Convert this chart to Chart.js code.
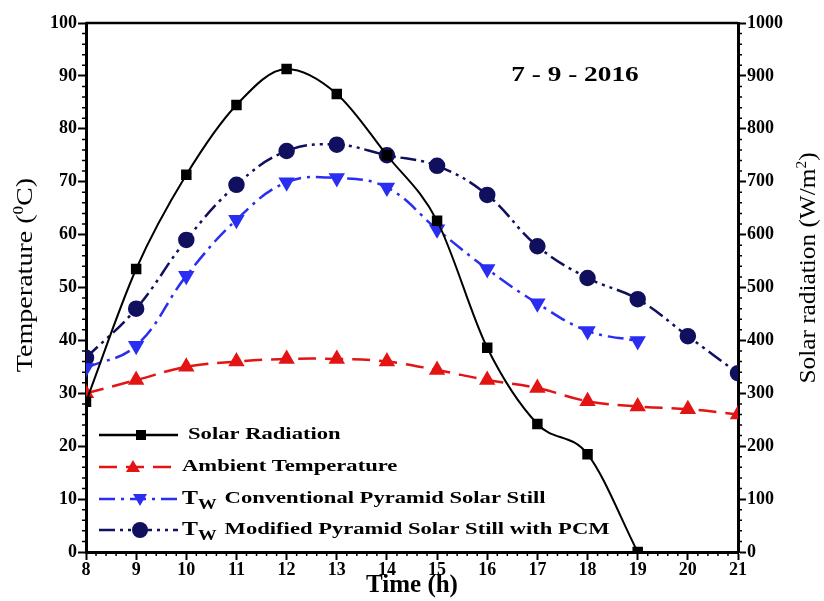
<!DOCTYPE html>
<html lang="en">
<head>
    <meta charset="UTF-8">
    <title>Solar Still Temperatures</title>
    <style>
        body { margin: 0; padding: 0; background: #fff; }
        #wrap { width: 824px; height: 601px; }
    </style>
</head>
<body>
    <div id="wrap"><canvas id="chart" width="824" height="601"></canvas></div>
    <script src="https://cdn.jsdelivr.net/npm/chart.js"></script>
    <script>
        // data
        var hours = [8, 9, 10, 11, 12, 13, 14, 15, 16, 17, 18, 19, 20, 21];
        var solarRadiation = [284, 535, 713, 845, 913, 866, 750, 626, 386, 242, 185, 0];
        var ambientTemp = [30, 32.5, 35, 36, 36.5, 36.5, 36, 34.4, 32.5, 31, 28.5, 27.5, 27, 26];
        var conventionalTw = [34.8, 39, 52.2, 62.8, 69.9, 70.7, 68.9, 61, 53.5, 47, 41.8, 39.9];
        var modifiedTw = [36.7, 46, 59, 69.4, 75.8, 77, 75, 73, 67.5, 57.8, 51.8, 47.8, 40.8, 33.8];
        var legendLabels = ['Solar Radiation', 'Ambient Temperature',
            'Conventional Pyramid Solar Still', 'Modified Pyramid Solar Still with PCM'];
        var dateLabel = '7 - 9 - 2016';

        var serif = '"Liberation Serif", "Times New Roman", serif';

        function pts(vals) {
            return vals.map(function(v, i) { return { x: hours[i], y: v }; });
        }

        // draws text parts [text, size, dy] in a row, stretched along the row
        function drawParts(ctx, parts, cx, cy, angle, stretch, weight) {
            ctx.save();
            ctx.translate(cx, cy);
            ctx.rotate(angle);
            ctx.scale(stretch, 1);
            ctx.textBaseline = 'middle';
            ctx.textAlign = 'left';
            var total = 0;
            parts.forEach(function(p) {
                ctx.font = weight + ' ' + p[1] + 'px ' + serif;
                total += ctx.measureText(p[0]).width;
            });
            var x = -total / 2;
            parts.forEach(function(p) {
                ctx.font = weight + ' ' + p[1] + 'px ' + serif;
                ctx.fillText(p[0], x, p[2]);
                x += ctx.measureText(p[0]).width;
            });
            ctx.restore();
        }

        // minor ticks, top frame line, axis titles and date text
        var decor = {
            id: 'decor',
            afterDraw: function(chart) {
                var ctx = chart.ctx, a = chart.chartArea;
                var sx = chart.scales.x, sy = chart.scales.y, sy2 = chart.scales.y2;
                ctx.save();
                ctx.strokeStyle = '#000';
                ctx.lineWidth = 1.5;
                ctx.beginPath();
                for (var v = 0; v <= 100; v += 2) {
                    if (v % 10 === 0) continue;
                    var py = sy.getPixelForValue(v);
                    ctx.moveTo(a.left - 4, py); ctx.lineTo(a.left, py);
                }
                for (var w = 0; w <= 1000; w += 20) {
                    if (w % 100 === 0) continue;
                    var py2 = sy2.getPixelForValue(w);
                    ctx.moveTo(a.right, py2); ctx.lineTo(a.right + 4, py2);
                }
                for (var h = 8; h < 21; h += 0.2) {
                    if (Math.abs(h - Math.round(h)) < 0.01) continue;
                    var px = sx.getPixelForValue(h);
                    ctx.moveTo(px, a.bottom); ctx.lineTo(px, a.bottom + 4);
                }
                ctx.stroke();

                ctx.lineWidth = 2.5;
                ctx.beginPath();
                ctx.moveTo(a.left, a.top); ctx.lineTo(a.right, a.top);
                ctx.stroke();

                ctx.fillStyle = '#000';
                drawParts(ctx, [['Temperature (', 23, 0], ['0', 14, -7], ['C)', 23, 0]],
                    26, 275, -Math.PI / 2, 1.22, 'normal');
                drawParts(ctx, [['Solar radiation (W/m', 23, 0], ['2', 14, -7], [')', 23, 0]],
                    809, 268, -Math.PI / 2, 1.1, 'normal');
                drawParts(ctx, [[dateLabel, 21, 0]],
                    sx.getPixelForValue(17.75), sy.getPixelForValue(90), 0, 1.3, 'bold');
                ctx.restore();
            }
        };

        function drawMarker(ctx, style, x, y, color) {
            ctx.fillStyle = color;
            ctx.beginPath();
            if (style === 'rect') {
                ctx.rect(x - 5, y - 5, 10, 10);
            } else if (style === 'circle') {
                ctx.arc(x, y, 8, 0, Math.PI * 2);
            } else if (style === 'up') {
                ctx.moveTo(x, y - 7); ctx.lineTo(x + 7, y + 5); ctx.lineTo(x - 7, y + 5);
            } else {
                ctx.moveTo(x, y + 7); ctx.lineTo(x + 7, y - 5); ctx.lineTo(x - 7, y - 5);
            }
            ctx.closePath();
            ctx.fill();
        }

        // legend sits inside the plot, bottom-left
        var insideLegend = {
            id: 'insideLegend',
            afterDraw: function(chart) {
                var ctx = chart.ctx;
                var rows = [435, 467, 499, 530];
                var marks = ['rect', 'up', 'down', 'circle'];
                var markX = [141, 133, 140, 140];
                ctx.save();
                chart.data.datasets.forEach(function(ds, i) {
                    var y = rows[i];
                    ctx.strokeStyle = ds.borderColor;
                    ctx.lineWidth = 2.5;
                    ctx.setLineDash(ds.borderDash || []);
                    ctx.beginPath();
                    ctx.moveTo(99, y); ctx.lineTo(178, y);
                    ctx.stroke();
                    ctx.setLineDash([]);
                    drawMarker(ctx, marks[i], markX[i], y, ds.backgroundColor);

                    ctx.fillStyle = '#000';
                    ctx.textBaseline = 'middle';
                    ctx.textAlign = 'left';
                    var x = i === 0 ? 188 : 182;
                    ctx.save();
                    ctx.translate(x, y);
                    ctx.scale(1.33, 1);
                    var tx = 0;
                    if (i >= 2) {
                        ctx.font = 'bold 18px ' + serif;
                        ctx.fillText('T', tx, 0);
                        tx += ctx.measureText('T').width;
                        ctx.font = 'bold 14px ' + serif;
                        ctx.fillText('W', tx, 6);
                        tx += ctx.measureText('W').width + 6;
                    }
                    ctx.font = 'bold 17px ' + serif;
                    ctx.fillText(legendLabels[i], tx, 0);
                    ctx.restore();
                });
                ctx.restore();
            }
        };

        var tickFont = { family: serif, size: 18, weight: 'bold' };

        new Chart(document.getElementById('chart').getContext('2d'), {
            type: 'line',
            data: {
                datasets: [{
                    label: legendLabels[0],
                    data: pts(solarRadiation),
                    yAxisID: 'y2',
                    borderColor: '#000',
                    backgroundColor: '#000',
                    borderWidth: 2,
                    pointStyle: 'rect',
                    pointRadius: 6,
                    cubicInterpolationMode: 'monotone'
                }, {
                    label: legendLabels[1],
                    data: pts(ambientTemp),
                    yAxisID: 'y',
                    borderColor: '#e31414',
                    backgroundColor: '#e31414',
                    borderWidth: 2.5,
                    borderDash: [18, 9],
                    pointStyle: 'triangle',
                    pointRadius: 7,
                    tension: 0.4
                }, {
                    label: legendLabels[2],
                    data: pts(conventionalTw),
                    yAxisID: 'y',
                    borderColor: '#2a2ef0',
                    backgroundColor: '#2a2ef0',
                    borderWidth: 2.5,
                    borderDash: [16, 6, 3, 6],
                    pointStyle: 'triangle',
                    pointRotation: 180,
                    pointRadius: 7,
                    tension: 0.4
                }, {
                    label: legendLabels[3],
                    data: pts(modifiedTw),
                    yAxisID: 'y',
                    borderColor: '#10105e',
                    backgroundColor: '#10105e',
                    borderWidth: 2.5,
                    borderDash: [16, 5, 3, 5, 3, 5],
                    pointStyle: 'circle',
                    pointRadius: 7,
                    tension: 0.4
                }]
            },
            options: {
                responsive: false,
                animation: false,
                layout: { padding: { top: 23, left: 0, right: 0, bottom: 0 } },
                plugins: { legend: { display: false }, tooltip: { enabled: false } },
                scales: {
                    x: {
                        type: 'linear', min: 8, max: 21,
                        ticks: { stepSize: 1, color: '#000', font: tickFont, padding: 0 },
                        grid: { drawOnChartArea: false, color: '#000', tickLength: 8, tickWidth: 2 },
                        border: { color: '#000', width: 3 },
                        title: { display: true, text: 'Time (h)', color: '#000',
                            font: { family: serif, size: 25, weight: 'bold' }, padding: 0 },
                        afterFit: function(s) { s.height = 49; }
                    },
                    y: {
                        position: 'left', min: 0, max: 100,
                        ticks: { stepSize: 10, color: '#000', font: tickFont, padding: 1 },
                        grid: { drawOnChartArea: false, color: '#000', tickLength: 8, tickWidth: 2 },
                        border: { color: '#000', width: 3 },
                        afterFit: function(s) { s.width = 86; }
                    },
                    y2: {
                        position: 'right', min: 0, max: 1000,
                        ticks: { stepSize: 100, color: '#000', font: tickFont, padding: 1,
                            callback: function(v) { return String(v); } },
                        grid: { drawOnChartArea: false, color: '#000', tickLength: 8, tickWidth: 2 },
                        border: { color: '#000', width: 3 },
                        afterFit: function(s) { s.width = 86; }
                    }
                }
            },
            plugins: [decor, insideLegend]
        });
    </script>
</body>
</html>
